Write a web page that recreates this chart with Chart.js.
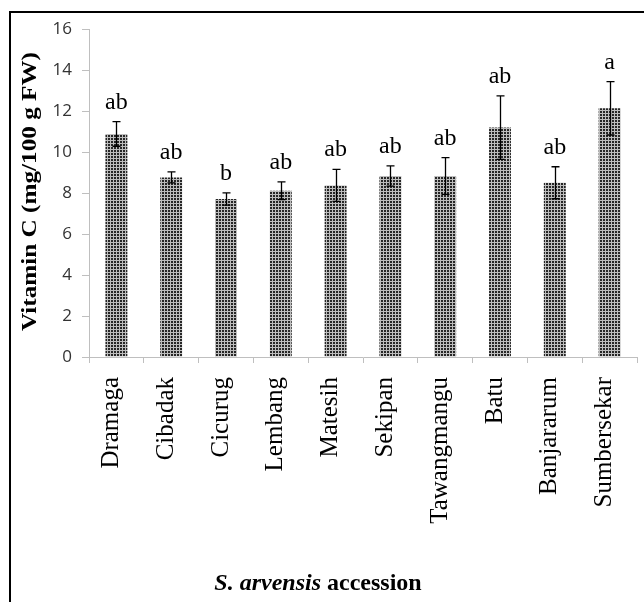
<!DOCTYPE html>
<html><head><meta charset="utf-8">
<script src="https://cdn.jsdelivr.net/npm/chart.js@4.4.1/dist/chart.umd.min.js"></script>
<style>
html,body{margin:0;padding:0;background:#fff;}
#wrap{position:relative;width:644px;height:602px;overflow:hidden;}
#frame{position:absolute;left:9px;top:11px;width:700px;height:700px;border-left:2px solid #000;border-top:2px solid #000;}
#c{position:absolute;left:0;top:0;}
</style></head><body>
<div id="wrap"><div id="frame"></div><canvas id="c" width="644" height="602"></canvas></div>
<script>
const categories = ['Dramaga','Cibadak','Cicurug','Lembang','Matesih','Sekipan','Tawangmangu','Batu','Banjararum','Sumbersekar'];
const vitaminC = [10.88, 8.76, 7.71, 8.11, 8.37, 8.83, 8.83, 11.19, 8.50, 12.13];
const stdError = [0.60, 0.27, 0.30, 0.43, 0.78, 0.49, 0.90, 1.55, 0.78, 1.30];
const letters = ['ab','ab','b','ab','ab','ab','ab','ab','ab','a'];
const yMin = 0, yMax = 16, yStep = 2;
const yTitle = 'Vitamin C (mg/100 g FW)';
const xTitleItalic = 'S. arvensis';
const xTitleRest = ' accession';

const canvas = document.getElementById('c');
const ctx0 = canvas.getContext('2d');
function makePattern(){
  const p = document.createElement('canvas'); p.width = 3; p.height = 3;
  const g = p.getContext('2d');
  g.fillStyle = '#bdbdbd'; g.fillRect(0,0,3,3);
  g.fillStyle = '#262626'; g.fillRect(0,0,2,2);
  return ctx0.createPattern(p, 'repeat');
}

const annot = {
  id: 'annot',
  afterDatasetsDraw(chart){
    const ctx = chart.ctx, y = chart.scales.y, meta = chart.getDatasetMeta(0);
    ctx.save();
    ctx.strokeStyle = '#000'; ctx.lineWidth = 1.3;
    ctx.fillStyle = '#000';
    meta.data.forEach((bar, i) => {
      const x = Math.round(bar.x) + 0.5;
      const top = y.getPixelForValue(vitaminC[i] + stdError[i]);
      const bot = y.getPixelForValue(vitaminC[i] - stdError[i]);
      ctx.beginPath();
      ctx.moveTo(x, top); ctx.lineTo(x, bot);
      ctx.moveTo(x - 4, top); ctx.lineTo(x + 4, top);
      ctx.moveTo(x - 4, bot); ctx.lineTo(x + 4, bot);
      ctx.stroke();
      ctx.font = '24px "Liberation Serif"';
      ctx.textAlign = 'center'; ctx.textBaseline = 'alphabetic';
      ctx.fillText(letters[i], bar.x, top - 13);
    });
    // y title
    const ca = chart.chartArea;
    ctx.save();
    ctx.translate(36, (ca.top + ca.bottom) / 2 - 1.5);
    ctx.rotate(-Math.PI / 2);
    ctx.scale(1.2, 1);
    ctx.font = 'bold 21px "Liberation Serif"';
    ctx.textAlign = 'center'; ctx.textBaseline = 'alphabetic';
    ctx.fillText(yTitle, 0, 0);
    ctx.restore();
    // x title
    const fI = 'italic bold 24px "Liberation Serif"', fB = 'bold 24px "Liberation Serif"';
    ctx.font = fI; const w1 = ctx.measureText(xTitleItalic).width;
    ctx.font = fB; const w2 = ctx.measureText(xTitleRest).width;
    const cx = 318, by = 590;
    let sx = cx - (w1 + w2) / 2;
    ctx.textAlign = 'left';
    ctx.font = fI; ctx.fillText(xTitleItalic, sx, by);
    ctx.font = fB; ctx.fillText(xTitleRest, sx + w1, by);
    ctx.restore();
  }
};

new Chart(canvas, {
  type: 'bar',
  data: {
    labels: categories,
    datasets: [{
      data: vitaminC,
      backgroundColor: makePattern(),
      borderWidth: 0,
      categoryPercentage: 1,
      barPercentage: 0.4
    }]
  },
  options: {
    responsive: false,
    animation: false,
    devicePixelRatio: 1,
    layout: { padding: { left: 0, top: 29, right: 7, bottom: 0 } },
    plugins: { legend: { display: false }, tooltip: { enabled: false } },
    scales: {
      x: {
        offset: true,
        grid: { offset: true, drawOnChartArea: false, drawTicks: true, tickLength: 6, color: '#bfbfbf' },
        border: { color: '#bfbfbf', width: 1 },
        ticks: { autoSkip: false, minRotation: 90, maxRotation: 90, padding: 14, labelOffset: -5, color: '#000',
                 font: { family: '"Liberation Serif"', size: 25 } },
        afterFit(s){ s.height = 245; s.paddingLeft = 0; s.paddingRight = 0; }
      },
      y: {
        min: yMin, max: yMax,
        grid: { drawOnChartArea: false, drawTicks: true, tickLength: 7, color: '#bfbfbf' },
        border: { color: '#bfbfbf', width: 1 },
        ticks: { stepSize: yStep, padding: 10, color: '#333333',
                 font: { family: '"Open Sans"', size: 17 } },
        afterFit(s){ s.width = 89; s.paddingTop = 0; s.paddingBottom = 0; }
      }
    }
  },
  plugins: [annot]
});
</script>
</body></html>
